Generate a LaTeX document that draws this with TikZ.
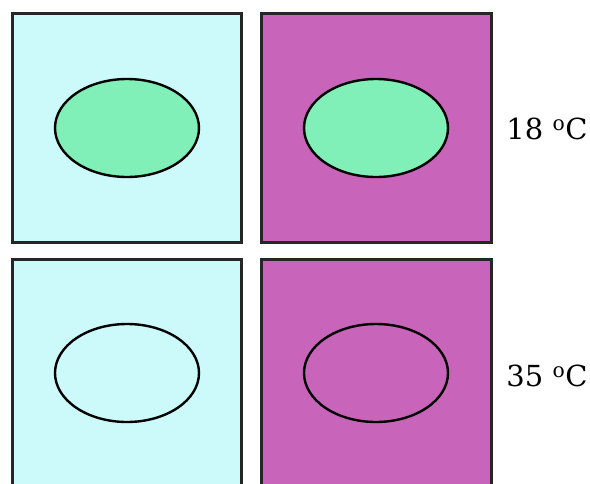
\documentclass[tikz,border=0pt]{standalone}
\usepackage{fontspec}
\newfontfamily\labelfont{DejaVu Serif}
\usetikzlibrary{shapes.geometric}
\begin{document}
\begin{tikzpicture}[x=1pt,y=-1pt,
  cellbox/.style={draw=black!85,line width=3pt},
  blob/.style={draw=black,line width=2.4pt,ellipse,minimum width=144,minimum height=98,inner sep=0pt},
  lbl/.style={font=\labelfont\fontsize{29}{34}\selectfont,inner sep=0pt}]
\definecolor{cyanbg}{HTML}{CCFAFA}
\definecolor{magbg}{HTML}{C864BA}
\definecolor{greenblob}{HTML}{80F0B8}
\useasboundingbox (0,0) rectangle (590,483);
\begin{scope}
\clip (0,0) rectangle (590,483);
\draw[cellbox,fill=cyanbg] (12,13) rectangle (241,242);
\draw[cellbox,fill=magbg] (261,13) rectangle (491,242);
\draw[cellbox,fill=cyanbg] (12,259) rectangle (241,500);
\draw[cellbox,fill=magbg] (261,259) rectangle (491,500);
\end{scope}
\node[blob,fill=greenblob] (e1) at (127,128) {};
\node[blob,fill=greenblob] (e2) at (376,128) {};
\node[blob] (e3) at (127,373) {};
\node[blob] (e4) at (376,373) {};
\node[lbl] (t1) at (547,129) {18 \textsuperscript{o}C};
\node[lbl] (t2) at (547,376) {35 \textsuperscript{o}C};
\end{tikzpicture}
\end{document}
